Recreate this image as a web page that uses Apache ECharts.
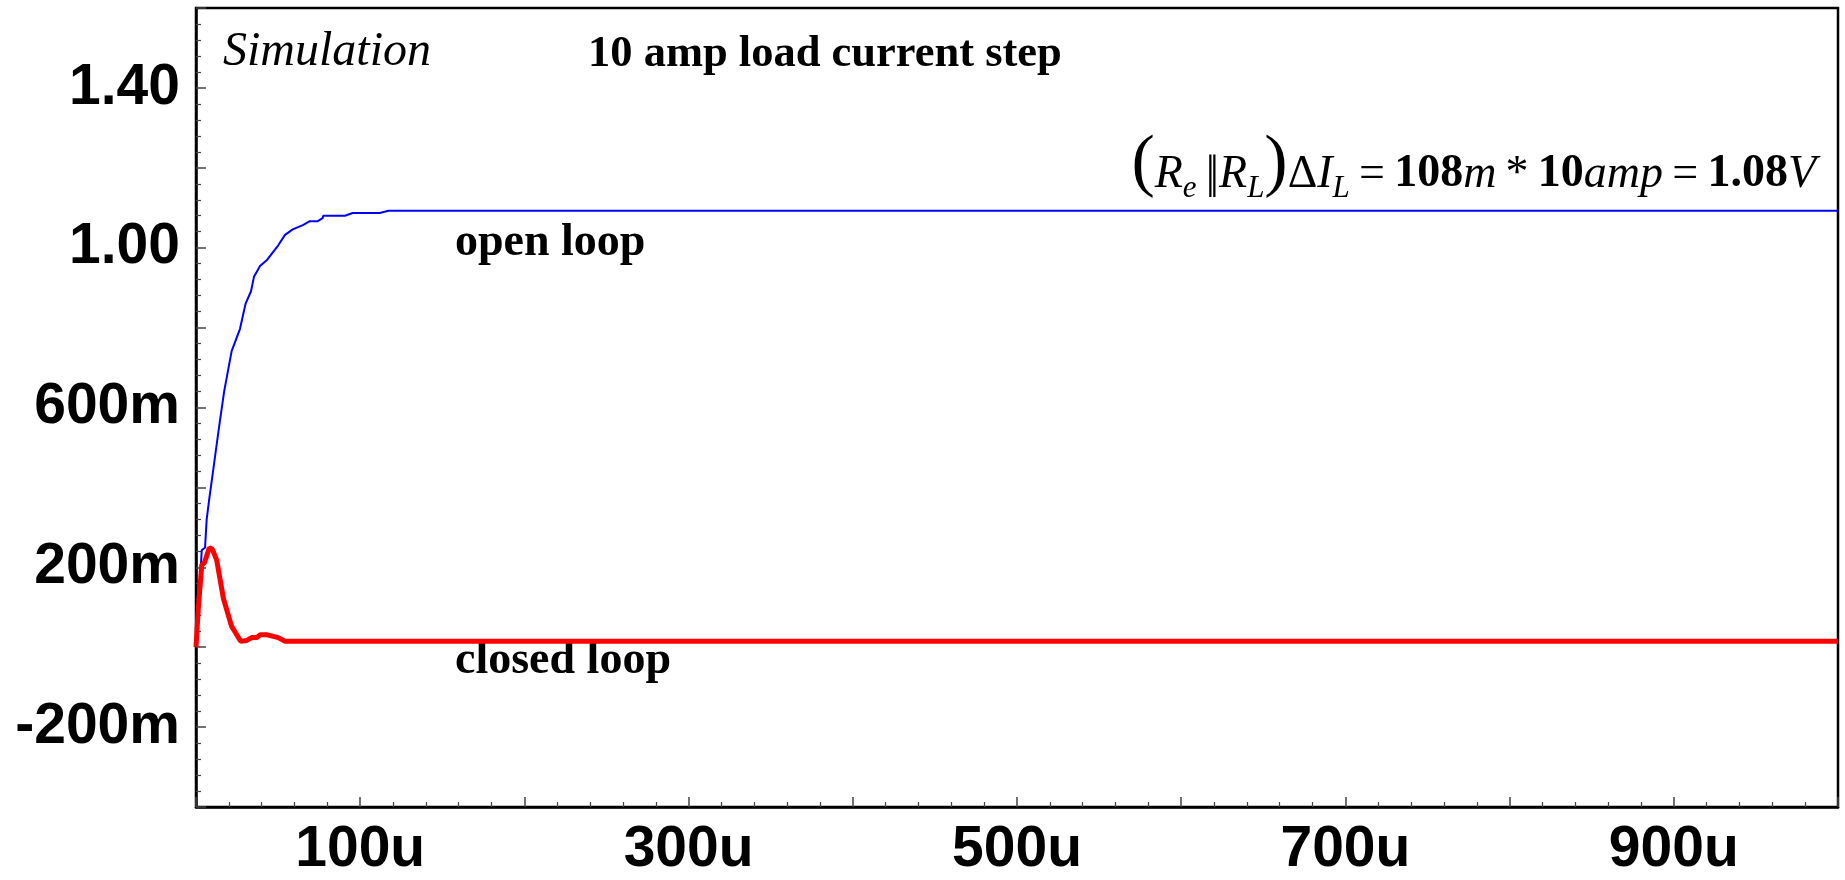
<!DOCTYPE html>
<html>
<head>
<meta charset="utf-8">
<script src="https://cdn.jsdelivr.net/npm/echarts@6/dist/echarts.min.js"></script>
<style>
html,body{margin:0;padding:0;background:#ffffff;}
#chart{width:1845px;height:880px;}
</style>
</head>
<body>
<div id="chart"></div>
<script>
// time in microseconds, voltage in volts
const openLoopT = [0, 1.4, 3.5, 5.5, 6.5, 8.1, 10.6, 14.2, 17.1, 21.7, 26.8, 30.2, 33.5, 35.3, 39, 43.4, 50.1, 54.2, 58.9, 65.4, 69, 73.9, 77.1, 77.5, 90.7, 95.4, 112, 117.1, 1000];
const openLoopV = [0.0, 0.089, 0.243, 0.249, 0.32, 0.372, 0.447, 0.556, 0.639, 0.741, 0.797, 0.86, 0.891, 0.927, 0.954, 0.97, 1.006, 1.032, 1.046, 1.057, 1.066, 1.066, 1.074, 1.08, 1.08, 1.087, 1.087, 1.0925, 1.0925];

const closedLoopT = [0, 1.4, 3.5, 5.2, 8.1, 10.0, 12.6, 16.7, 21.7, 27.2, 30.9, 33.9, 37, 39, 43.4, 50.1, 54.2, 1000];
const closedLoopV = [0.0, 0.097, 0.206, 0.212, 0.249, 0.245, 0.218, 0.122, 0.052, 0.015, 0.017, 0.024, 0.024, 0.031, 0.031, 0.024, 0.015, 0.015];

const xLabelTicks = [100, 300, 500, 700, 900];
const yLabelTicks = [-0.2, 0.2, 0.6, 1.0, 1.4];

// formula text pieces: [text, style key]
const formulaPieces = [
  ['(', 'p'], ['R', 'v'], ['e', 's'], ['\u2009', 'n'], ['|', 'q'], ['|', 'r'], ['R', 'v'], ['L', 's'], [')', 'p'],
  ['\u0394', 'n'], ['I', 'v'], ['L', 's'], ['\u2009=\u2009', 'n'], ['108', 'b'], ['m', 'v'],
  ['\u2009*\u2009', 'n'], ['10', 'b'], ['amp', 'v'], ['\u2009=\u2009', 'n'], ['1.08', 'b'], ['V', 'v']
];

const openLoopData = openLoopT.map((t, i) => [t, openLoopV[i]]);
const closedLoopData = closedLoopT.map((t, i) => [t, closedLoopV[i]]);

const axisFont = "'Liberation Sans',Arial,Helvetica,sans-serif";
const serifFont = "'Liberation Serif','Times New Roman','DejaVu Serif',serif";

function fmtY(v) {
  const r = Math.round(v * 10);
  if (!yLabelTicks.some(t => Math.round(t * 10) === r)) return '';
  const val = r / 10;
  if (Math.abs(val) >= 1) return val.toFixed(2);
  return Math.round(val * 1000) + 'm';
}
function fmtX(v) {
  const r = Math.round(v);
  return xLabelTicks.indexOf(r) >= 0 ? r + 'u' : '';
}

// formula typographic styles
const fStyles = {
  p: {size: 70, fontStyle: 'normal', fontWeight: 'normal', dy: -2},
  v: {size: 46, fontStyle: 'italic', fontWeight: 'normal', dy: 0},
  s: {size: 31, fontStyle: 'italic', fontWeight: 'normal', dy: 9},
  n: {size: 46, fontStyle: 'normal', fontWeight: 'normal', dy: 0},
  q: {size: 46, fontStyle: 'normal', fontWeight: 'normal', dy: 0, advance: 4},
  r: {size: 46, fontStyle: 'normal', fontWeight: 'normal', dy: 0},
  b: {size: 46, fontStyle: 'normal', fontWeight: 'bold', dy: 0}
};
function buildFormula(rightX, baseline) {
  const ctx = document.createElement('canvas').getContext('2d');
  const widths = formulaPieces.map(([t, k]) => {
    const s = fStyles[k];
    if (s.advance != null) return s.advance;
    ctx.font = `${s.fontStyle} ${s.fontWeight} ${s.size}px ${serifFont}`;
    return ctx.measureText(t).width;
  });
  const total = widths.reduce((a, b) => a + b, 0);
  let x = rightX - total;
  return formulaPieces.map(([t, k], i) => {
    const s = fStyles[k];
    const el = {
      type: 'text', x: x, y: baseline + s.dy - 0.3375 * s.size,
      style: {text: t, fontFamily: serifFont, fontStyle: s.fontStyle, fontWeight: s.fontWeight,
              fontSize: s.size, fill: '#000', align: 'left', verticalAlign: 'middle'}
    };
    x += widths[i];
    return el;
  });
}

const chart = echarts.init(document.getElementById('chart'), null, {renderer: 'canvas'});
chart.setOption({
  animation: false,
  backgroundColor: '#ffffff',
  grid: {
    left: 196, right: 7, top: 8, bottom: 73,
    show: true, borderColor: '#000', borderWidth: 2.5, backgroundColor: 'transparent'
  },
  xAxis: {
    type: 'value', min: 0, max: 1000, interval: 100,
    axisLine: {show: true, onZero: false, lineStyle: {color: '#000', width: 2.5}},
    axisTick: {show: true, inside: true, length: 10, lineStyle: {color: '#444', width: 1.5}},
    minorTick: {show: true, splitNumber: 5, length: 5, lineStyle: {color: '#444', width: 1.2}},
    splitLine: {show: false},
    axisLabel: {
      show: true, margin: 15, formatter: fmtX,
      fontFamily: axisFont, fontWeight: 'bold', fontSize: 57, color: '#000'
    }
  },
  yAxis: {
    type: 'value', min: -0.4, max: 1.6, interval: 0.2,
    axisLine: {show: true, onZero: false, lineStyle: {color: '#000', width: 2.5}},
    axisTick: {show: true, inside: true, length: 10, lineStyle: {color: '#444', width: 1.5}},
    minorTick: {show: true, splitNumber: 5, length: 5, lineStyle: {color: '#444', width: 1.2}},
    splitLine: {show: false},
    axisLabel: {
      show: true, margin: 16, formatter: fmtY,
      fontFamily: axisFont, fontWeight: 'bold', fontSize: 57, color: '#000'
    }
  },
  series: [
    {
      name: 'open loop', type: 'line', data: openLoopData,
      showSymbol: false, symbol: 'none', smooth: false,
      lineStyle: {color: '#0000ff', width: 2}, z: 3
    },
    {
      name: 'closed loop', type: 'line', data: closedLoopData,
      showSymbol: false, symbol: 'none', smooth: false,
      lineStyle: {color: '#ff0000', width: 5}, z: 4
    }
  ],
  graphic: [
    {
      type: 'text', x: 223, y: 52,
      style: {text: 'Simulation', fontFamily: serifFont, fontStyle: 'italic', fontSize: 48, fill: '#000', verticalAlign: 'middle', align: 'left'}
    },
    {
      type: 'text', x: 588, y: 54.5,
      style: {text: '10 amp load current step', fontFamily: serifFont, fontWeight: 'bold', fontSize: 44.5, fill: '#000', verticalAlign: 'middle', align: 'left'}
    },
    {
      type: 'text', x: 455, y: 243.5,
      style: {text: 'open loop', fontFamily: serifFont, fontWeight: 'bold', fontSize: 46, fill: '#000', verticalAlign: 'middle', align: 'left'}
    },
    {
      type: 'text', x: 455, y: 661.5,
      style: {text: 'closed loop', fontFamily: serifFont, fontWeight: 'bold', fontSize: 46, fill: '#000', verticalAlign: 'middle', align: 'left'}
    }
  ].concat(buildFormula(1816, 190))
});
</script>
</body>
</html>
